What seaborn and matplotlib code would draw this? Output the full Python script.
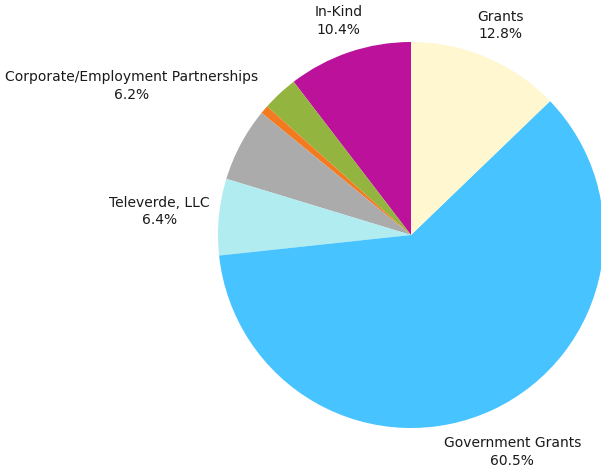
import matplotlib
matplotlib.use("Agg")
import matplotlib.pyplot as plt
import seaborn as sns
import numpy as np

# Data (counter-clockwise from top)
categories = ["In-Kind", "Other A", "Other B", "Corporate/Employment Partnerships",
              "Televerde, LLC", "Government Grants", "Grants"]
values = [10.4, 3.0, 0.7, 6.2, 6.4, 60.5, 12.8]
show_label = [True, False, False, True, True, True, True]
colors = ["#BB119B", "#93B43E", "#F47A20", "#ABABAB", "#B1ECF0", "#47C3FF", "#FEF7D0"]
label_dist = [1.17, 1.0, 1.0, 1.64, 1.31, 1.24, 1.18]

sns.set_theme(style="white")
plt.rcParams['font.family'] = ['DejaVu Sans']

fig = plt.figure(figsize=(6.01, 4.69), dpi=100)
ax = fig.add_axes([0, 0, 1, 1])
wedges, _ = ax.pie(values, colors=colors, startangle=90, counterclock=True,
                   radius=1.0, wedgeprops=dict(linewidth=0, edgecolor="none"))

for w, cat, v, show, d in zip(wedges, categories, values, show_label, label_dist):
    if not show:
        continue
    mid = np.deg2rad((w.theta1 + w.theta2) / 2)
    ax.text(d * np.cos(mid), d * np.sin(mid), f"{cat}\n{v:.1f}%",
            ha="center", va="center", fontsize=10, color="#1a1a1a",
            linespacing=1.3)

ax.set_xlim(-411 / 193, (601 - 411) / 193)
ax.set_ylim(-(469 - 235) / 193, 235 / 193)
ax.set_aspect("auto")
ax.axis("off")
fig.savefig("out.png", dpi=100)
